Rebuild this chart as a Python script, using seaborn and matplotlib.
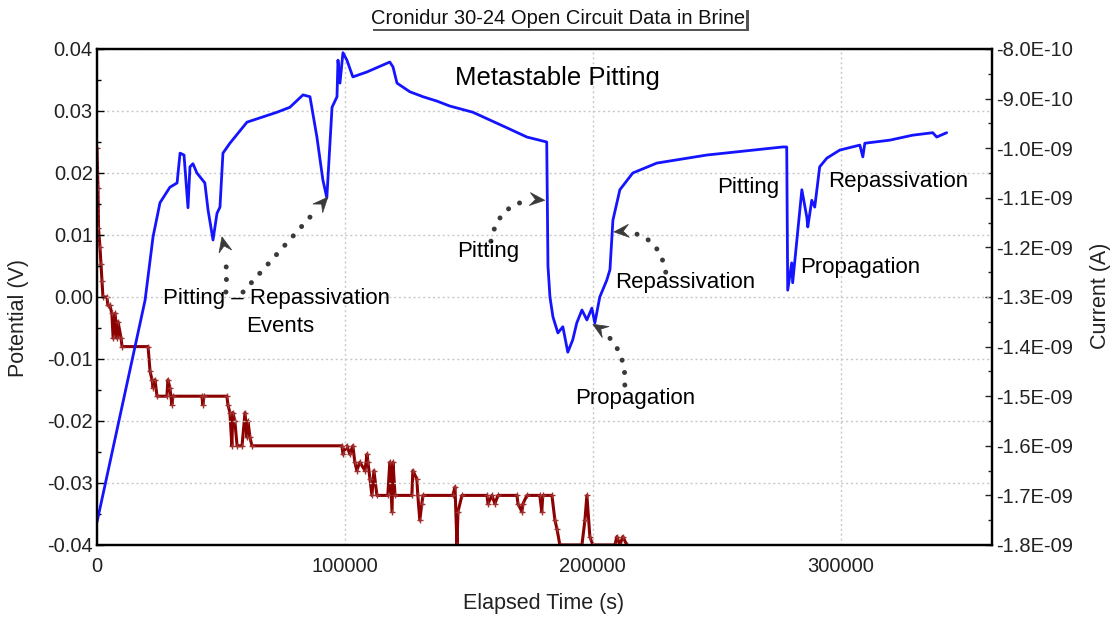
import math
import matplotlib
matplotlib.use("Agg")
import matplotlib.pyplot as plt
import matplotlib.patheffects as pe
from matplotlib.patches import Polygon
from matplotlib.ticker import MultipleLocator, FormatStrFormatter
import seaborn as sns

# ---------------- data ----------------
blue_t = [0, 19400, 22600, 25400, 29400, 32300, 33500, 35100, 36700, 37500,
          38700, 40300, 43500, 44800, 46800, 48400, 49600, 50800, 53600, 60500,
          72600, 77800, 83100, 85900, 88700, 91100, 92700, 94800, 96800, 97200,
          98000, 99200, 100800, 103200, 108900, 118100, 119400, 121000, 126200, 131500,
          137100, 142300, 151600, 165300, 173400, 181400, 181900, 182700, 183900, 185900,
          187900, 189900, 191900, 193500, 195600, 197600, 199600, 200800, 202800, 205600,
          206900, 208100, 210900, 216100, 225800, 246000, 276600, 278200, 278600, 280200,
          280600, 282300, 284300, 286300, 286700, 288300, 289500, 291500, 294400, 299600,
          307700, 308900, 309700, 319800, 329000, 337100, 338700, 342700]
blue_v = [-0.0363, -0.0005, 0.0097, 0.0152, 0.0177, 0.0184, 0.0232, 0.0229, 0.0144, 0.0210,
          0.0215, 0.0200, 0.0184, 0.0140, 0.0092, 0.0135, 0.0145, 0.0232, 0.0248, 0.0282,
          0.0298, 0.0306, 0.0326, 0.0323, 0.0258, 0.0189, 0.0160, 0.0306, 0.0323, 0.0382,
          0.0345, 0.0394, 0.0382, 0.0355, 0.0363, 0.0379, 0.0371, 0.0345, 0.0331, 0.0323,
          0.0316, 0.0308, 0.0298, 0.0273, 0.0258, 0.0250, 0.0050, 0.0000, -0.0032, -0.0058,
          -0.0048, -0.0089, -0.0069, -0.0042, -0.0021, -0.0037, -0.0018, -0.0042, 0.0000, 0.0027,
          0.0044, 0.0124, 0.0173, 0.0200, 0.0216, 0.0229, 0.0242, 0.0242, 0.0011, 0.0055,
          0.0023, 0.0092, 0.0173, 0.0129, 0.0113, 0.0156, 0.0145, 0.0210, 0.0224, 0.0237,
          0.0245, 0.0226, 0.0248, 0.0253, 0.0261, 0.0265, 0.0258, 0.0265]

red_t = [0, 400, 600, 1200, 1600, 2000, 2400, 4000, 4400, 5200,
         6000, 6500, 7300, 8100, 8500, 9700, 10100, 20600, 21400, 22200,
         22600, 23400, 24200, 28200, 28600, 29400, 30200, 30600, 42300, 42700,
         43100, 52400, 52800, 53600, 54400, 54800, 55600, 56500, 58500, 59700,
         60500, 60900, 61700, 62500, 98800, 99200, 100800, 102000, 103200, 104000,
         104800, 106000, 108100, 108900, 109300, 110100, 110900, 111700, 112900, 117300,
         118100, 119000, 119400, 120200, 127000, 127400, 129000, 129400, 130200, 131000,
         131500, 143500, 144400, 145200, 145600, 147200, 157300, 157700, 159300, 160500,
         161700, 169400, 169800, 171400, 171800, 173400, 178600, 179400, 179800, 183500,
         184700, 185500, 186700, 195600, 196800, 197600, 198800, 200000, 208900, 209700,
         210900, 212100, 213700]
red_i = [-1.000e-9, -1.080e-9, -1.160e-9, -1.200e-9, -1.233e-9, -1.267e-9, -1.300e-9, -1.300e-9, -1.317e-9, -1.317e-9,
         -1.333e-9, -1.383e-9, -1.333e-9, -1.383e-9, -1.350e-9, -1.383e-9, -1.400e-9, -1.400e-9, -1.450e-9, -1.467e-9,
         -1.483e-9, -1.467e-9, -1.500e-9, -1.500e-9, -1.467e-9, -1.483e-9, -1.517e-9, -1.500e-9, -1.500e-9, -1.517e-9,
         -1.500e-9, -1.500e-9, -1.517e-9, -1.533e-9, -1.600e-9, -1.533e-9, -1.550e-9, -1.600e-9, -1.600e-9, -1.533e-9,
         -1.583e-9, -1.550e-9, -1.583e-9, -1.600e-9, -1.600e-9, -1.617e-9, -1.600e-9, -1.617e-9, -1.600e-9, -1.633e-9,
         -1.650e-9, -1.633e-9, -1.650e-9, -1.617e-9, -1.633e-9, -1.667e-9, -1.700e-9, -1.650e-9, -1.700e-9, -1.700e-9,
         -1.633e-9, -1.733e-9, -1.633e-9, -1.700e-9, -1.700e-9, -1.650e-9, -1.667e-9, -1.700e-9, -1.750e-9, -1.717e-9,
         -1.700e-9, -1.700e-9, -1.683e-9, -1.800e-9, -1.733e-9, -1.700e-9, -1.700e-9, -1.717e-9, -1.700e-9, -1.717e-9,
         -1.700e-9, -1.700e-9, -1.717e-9, -1.733e-9, -1.717e-9, -1.700e-9, -1.700e-9, -1.733e-9, -1.700e-9, -1.700e-9,
         -1.750e-9, -1.767e-9, -1.800e-9, -1.800e-9, -1.750e-9, -1.700e-9, -1.783e-9, -1.800e-9, -1.800e-9, -1.783e-9,
         -1.800e-9, -1.783e-9, -1.800e-9]

title = "Cronidur 30-24 Open Circuit Data in Brine"
xlabel = "Elapsed Time (s)"
ylabel_left = "Potential (V)"
ylabel_right = "Current (A)"

# annotation texts (label, t, v, size)
labels = [("Metastable Pitting", 185900, 0.0353, 18.5),
          ("Pitting \u2013 Repassivation", 72600, -0.0002, 16),
          ("Events", 73800, -0.0048, 16),
          ("Pitting", 157700, 0.0073, 16),
          ("Repassivation", 237100, 0.0023, 16),
          ("Propagation", 216900, -0.0163, 16),
          ("Pitting", 262500, 0.0177, 16),
          ("Propagation", 307700, 0.0048, 16),
          ("Repassivation", 323000, 0.0187, 16)]
# arrows (start t, start v, tip t, tip v, curvature)
arrows = [(52000, 0.0008, 50400, 0.0097, 0.08),
          (58900, 0.0008, 93100, 0.0161, 0.0),
          (158900, 0.0090, 180600, 0.0156, -0.45),
          (229400, 0.0040, 208500, 0.0105, 0.45),
          (212900, -0.0142, 200000, -0.0044, 0.3)]

# ---------------- style ----------------
sns.set_theme(style="white")
plt.rcParams["font.family"] = ["Liberation Sans", "DejaVu Sans"]

fig = plt.figure(figsize=(11.17, 6.17), dpi=100)
ax = fig.add_axes([97 / 1117, 1 - 545 / 617, 895 / 1117, 496 / 617])
ax2 = ax.twinx()

sns.lineplot(x=red_t, y=red_i, ax=ax2, color="#8b0000", lw=2.2, marker="+",
             markersize=5, markeredgewidth=1.0, markeredgecolor="#a03030",
             estimator=None, sort=False)
sns.lineplot(x=blue_t, y=blue_v, ax=ax, color="#1414ff", lw=2.0,
             estimator=None, sort=False)

ax.set_zorder(ax2.get_zorder() + 1)
ax.patch.set_visible(False)

ax.set_xlim(0, 361000)
ax.set_ylim(-0.04, 0.04)
ax2.set_ylim(-1.8e-9, -8.0e-10)

ax.xaxis.set_major_locator(MultipleLocator(100000))
ax.xaxis.set_minor_locator(MultipleLocator(50000))
ax.yaxis.set_major_locator(MultipleLocator(0.01))
ax.yaxis.set_minor_locator(MultipleLocator(0.005))
ax.yaxis.set_major_formatter(FormatStrFormatter("%.2f"))
ax2.yaxis.set_major_locator(MultipleLocator(1e-10))
ax2.yaxis.set_minor_locator(MultipleLocator(0.5e-10))
ax2.yaxis.set_major_formatter(FormatStrFormatter("%.1E"))
ax2.yaxis.get_offset_text().set_visible(False)

ax.grid(True, which="major", color="#c8c8c8", linestyle=(0, (1.5, 2)), lw=1.0)
ax2.grid(False)

for a in (ax, ax2):
    for s in a.spines.values():
        s.set_color("black")
        s.set_linewidth(1.6)

ax.tick_params(axis="both", which="both", direction="in", labelsize=14.5,
               colors="black", labelcolor="#222222")
ax.tick_params(axis="both", which="major", length=5, width=1)
ax.tick_params(axis="both", which="minor", length=3, width=1)
ax.tick_params(axis="y", which="both", right=False, pad=3)
ax.tick_params(axis="x", which="major", pad=9)
ax2.tick_params(axis="y", which="both", direction="in", labelsize=14.5,
                labelcolor="#222222", pad=3)
ax2.tick_params(axis="y", which="major", length=5, width=1)
ax2.tick_params(axis="y", which="minor", length=3, width=1)

ax.set_xlabel(xlabel, fontsize=15.5, color="#222222")
ax.set_ylabel(ylabel_left, fontsize=15.5, color="#222222")
ax2.set_ylabel(ylabel_right, fontsize=15.5, color="#222222")
ax.xaxis.set_label_coords((544 - 97) / 895, (545 - 593) / 496)
ax.yaxis.set_label_coords((29 - 97) / 895, (545 - 318) / 496)
ax2.yaxis.set_label_coords((1090 - 97) / 895, (545 - 296) / 496)

# title with shadowed box
t = fig.text(558 / 1117, 1 - 18 / 617, title, ha="center", va="center",
             fontsize=14.5, color="#111111",
             bbox=dict(boxstyle="square,pad=0.05", facecolor="white", edgecolor="none"))
t.get_bbox_patch().set_path_effects([pe.withSimplePatchShadow(offset=(2, -2),
                                                               shadow_rgbFace="#555555",
                                                               alpha=1.0),
                                     pe.Normal()])

for txt, tx, ty, fs in labels:
    ax.text(tx, ty, txt, ha="center", va="center", fontsize=fs, color="black", zorder=6)

arrow_color = "#3a3a3a"
T = ax.transData
Ti = T.inverted()
head_len = 15.0   # px
head_half = 6.5   # px
for sx, sy, ex, ey, rad in arrows:
    x1, y1 = T.transform((sx, sy))
    x2, y2 = T.transform((ex, ey))
    dx, dy = x2 - x1, y2 - y1
    cx, cy = (x1 + x2) / 2 + rad * dy, (y1 + y2) / 2 - rad * dx
    tx, ty = x2 - cx, y2 - cy
    n = math.hypot(tx, ty)
    ux, uy = tx / n, ty / n
    px_, py_ = -uy, ux
    bx, by = x2 - ux * head_len, y2 - uy * head_len
    nx, ny = x2 - ux * head_len * 0.62, y2 - uy * head_len * 0.62
    pts_disp = [(x2, y2),
                (bx + px_ * head_half, by + py_ * head_half),
                (nx, ny),
                (bx - px_ * head_half, by - py_ * head_half)]
    pts = [tuple(Ti.transform(p)) for p in pts_disp]
    ax.add_patch(Polygon(pts, closed=True, facecolor=arrow_color, edgecolor=arrow_color,
                         lw=0.5, zorder=5))
    ax.annotate("", xy=(ex, ey), xytext=(sx, sy), zorder=4,
                arrowprops=dict(arrowstyle="-", color=arrow_color, lw=3.6,
                                linestyle=(0, (0.01, 2.5)), capstyle="round",
                                connectionstyle=f"arc3,rad={rad}",
                                shrinkA=0, shrinkB=head_len * 0.72 + 3))

fig.savefig("out.png", dpi=100)
